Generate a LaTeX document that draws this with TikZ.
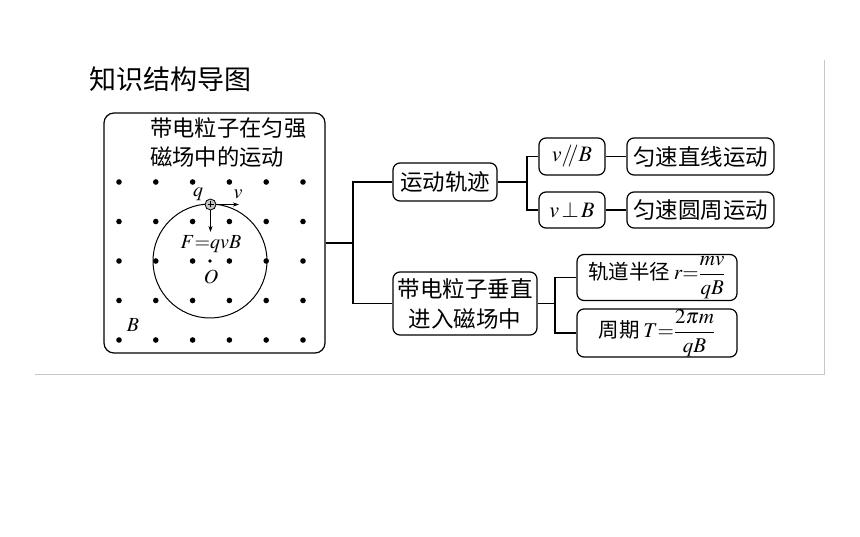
\documentclass[tikz,border=0pt]{standalone}
\usepackage{mathptmx}
\usepackage{fontspec}
\setmainfont{Liberation Serif}
\newfontfamily\cjk{Noto Sans CJK SC}
\usetikzlibrary{arrows.meta}
\begin{document}
\begin{tikzpicture}[x=1pt,y=-1pt,
  box/.style={draw, rounded corners=7pt, line width=1.2pt, inner sep=0pt, align=center},
  cn/.style={line width=1.2pt},
  txt/.style={font=\cjk\fontsize{22.5}{30}\selectfont},
  mtxt/.style={font=\fontsize{22}{26}\selectfont},
  frame/.style={draw=gray!45, line width=0.9pt},
  dot/.style={fill=black},
  vec/.style={line width=0.8pt, -{Stealth[length=6pt,width=4pt]}},
  lab/.style={font=\fontsize{20}{24}\selectfont, inner sep=0pt}
]
\useasboundingbox (0,0) rectangle (860,537);
% outer frame lines
\coordinate (fr1) at (824,60);
\coordinate (fr2) at (824,374);
\coordinate (fr3) at (35,374);
\draw[frame] (fr1) -- (fr2) -- (fr3);
% title
\node[anchor=west, inner sep=0pt, font=\cjk\fontsize{27}{30}\selectfont] (title) at (89,79) {知识结构导图};
% main box
\node[box, rounded corners=10pt, minimum width=221pt, minimum height=240pt] (mainbox) at (214.5,233) {};
\node[anchor=west, inner sep=0pt, align=left, font=\cjk\fontsize{22.3}{29}\selectfont] (mtitle) at (150,142.5) {带电粒子在匀强\\磁场中的运动};
% field dots
\foreach \i in {0,...,5}
  \foreach \j in {0,...,4}
    \fill[dot] ({119+36.8*\i},{182+39.5*\j}) circle (2.8);
% orbit
\coordinate (O) at (210,261);
\draw[line width=1pt] (O) circle (57);
\fill (O) circle (1.8);
\node[lab] (Olab) at (211,277) {$O$};
% charge
\node[circle, draw, line width=0.8pt, fill=gray!45, minimum size=11pt, inner sep=0pt] (q) at (210.5,204.5) {};
\draw[line width=0.7pt] ([xshift=-3pt]q.center) -- ([xshift=3pt]q.center);
\draw[line width=0.7pt] ([yshift=-3pt]q.center) -- ([yshift=3pt]q.center);
\coordinate (vend) at (239,204.5);
\coordinate (Fend) at (210.5,232);
\draw[vec] (q.east) -- (vend);
\draw[vec] (q.south) -- (Fend);
\node[lab] (qlab) at (198,194) {$q$};
\node[lab] (vlab) at (238,194) {$v$};
\node[lab] (Flab) at (211,244) {$F{=}qvB$};
\node[lab] (Blab) at (133,325) {$B$};
% right-hand boxes
\node[box, txt, minimum width=104pt, minimum height=38pt] (yd) at (445,182) {运动轨迹};
\node[box, txt, minimum width=144pt, minimum height=63pt] (cz) at (465,303.5) {带电粒子垂直\\进入磁场中};
\node[box, mtxt, minimum width=66pt, minimum height=37pt] (vpar) at (572,156.5) {$v/\!\!/B$};
\node[box, mtxt, minimum width=66pt, minimum height=36pt] (vperp) at (572,210) {$v\,{\perp}\,B$};
\node[box, txt, minimum width=147pt, minimum height=37pt] (zx) at (700.5,156.5) {匀速直线运动};
\node[box, txt, minimum width=147pt, minimum height=36pt] (yz) at (700.5,210) {匀速圆周运动};
\node[box, minimum width=160pt, minimum height=46pt, font=\fontsize{21}{23}\selectfont] (rr) at (657,277.5) {{\cjk\fontsize{20.5}{22}\selectfont 轨道半径}\,$r{=}\displaystyle\frac{mv}{qB}$};
\node[box, minimum width=160pt, minimum height=48pt, font=\fontsize{21}{23}\selectfont] (TT) at (657,333) {{\cjk\fontsize{20.5}{22}\selectfont 周期}\,$T{=}\displaystyle\frac{2\pi m}{qB}$};
% connectors
\coordinate (jA) at (353,243);
\coordinate (jB) at (527,182);
\coordinate (jC) at (555,303.5);
\draw[cn] (jA -| mainbox.east) -- (jA);
\draw[cn] (yd.west) -- (yd.west -| jA) -- (cz.west -| jA) -- (cz.west);
\draw[cn] (yd.east) -- (jB);
\draw[cn] (vpar.west) -- (vpar.west -| jB) -- (vperp.west -| jB) -- (vperp.west);
\draw[cn] (vpar.east) -- (zx.west);
\draw[cn] (vperp.east) -- (yz.west);
\draw[cn] (cz.east) -- (jC);
\draw[cn] (rr.west) -- (rr.west -| jC) -- (TT.west -| jC) -- (TT.west);
\end{tikzpicture}
\end{document}
